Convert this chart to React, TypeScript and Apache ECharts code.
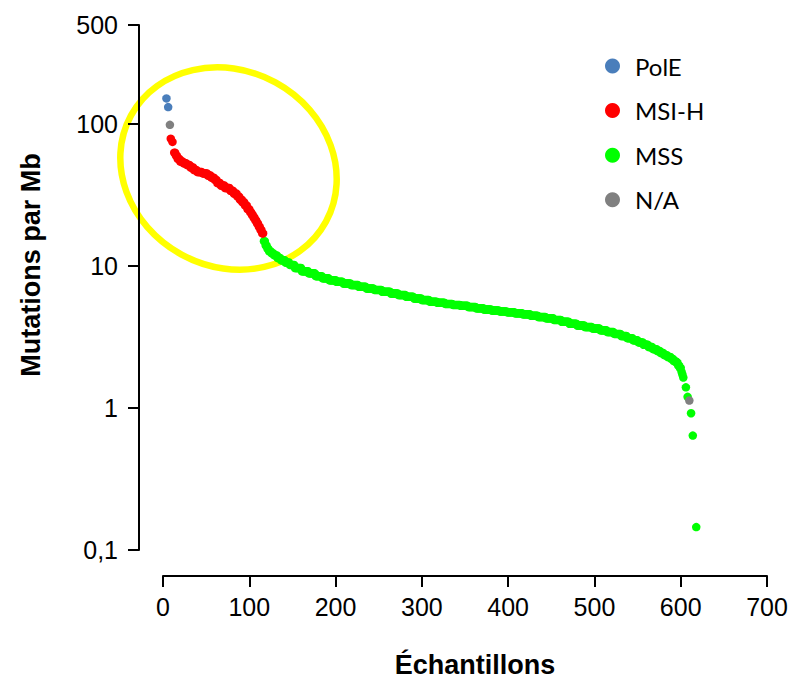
import React, { useEffect, useRef } from 'react';
import * as echarts from 'echarts';

// Legend / series names
const seriesNames = ['PolE', 'MSI-H', 'MSS', 'N/A'];
const seriesColors = ['#4a7ebb', '#ff0000', '#00ff00', '#808080'];

// X axis (sample rank) and Y axis (mutations per Mb, log) ranges
const xMin = 0;
const xMax = 700;
const xStep = 100;
const yMin = 0.1;
const yMax = 500;

// Isolated points: [sample rank, mutations per Mb]
const polePoints = [[4, 152], [6, 132]];
const naPoints = [[8, 99], [610, 1.13]];
const msiHeadPoints = [[9, 79], [11, 75]];
const mssTailPoints = [[606, 1.4], [608, 1.2], [612, 0.92], [614, 0.64], [618, 0.145]];

// Plateaus: [mutations per Mb, number of consecutive samples]
const msiStartRank = 13;
const msiRuns = [
  [63, 2], [60, 2], [57, 3], [54.5, 4], [53, 4], [51.5, 4], [49.5, 4], [47.5, 4],
  [46, 6], [45, 6], [43.5, 4], [42, 4], [40.5, 3], [38.5, 4], [37, 5], [35.5, 6],
  [34, 4], [32.5, 4], [31, 3], [29.5, 3], [28.2, 3], [26.8, 3], [25.2, 3], [24, 2],
  [23, 2], [22, 2], [21, 2], [20, 2], [19, 2], [18, 2], [17, 2],
];
const mssStartRank = 117;
const mssRuns = [
  [15.0, 2], [14.0, 2], [13.3, 2], [12.7, 3], [12.3, 3], [11.9, 4], [11.4, 4], [11.0, 5],
  [10.6, 5], [10.2, 6], [9.7, 8], [9.2, 8], [8.9, 8], [8.5, 8], [8.2, 8], [7.95, 8],
  [7.75, 8], [7.55, 9], [7.35, 9], [7.15, 9], [6.95, 9], [6.8, 9], [6.6, 10], [6.42, 9],
  [6.25, 9], [6.08, 9], [5.92, 9], [5.77, 9], [5.62, 9], [5.52, 9], [5.42, 9], [5.33, 9],
  [5.25, 9], [5.15, 9], [5.05, 9], [4.95, 9], [4.87, 9], [4.8, 9], [4.73, 9], [4.66, 9],
  [4.58, 9], [4.48, 9], [4.38, 9], [4.29, 9], [4.18, 9], [4.06, 9], [3.93, 9], [3.82, 9],
  [3.72, 9], [3.63, 9], [3.53, 8], [3.43, 8], [3.33, 8], [3.22, 7], [3.11, 7], [3.0, 6],
  [2.9, 6], [2.79, 6], [2.69, 5], [2.6, 5], [2.52, 4], [2.44, 4], [2.36, 4], [2.29, 4],
  [2.22, 3], [2.14, 3], [2.1, 2], [2.0, 2], [1.92, 2], [1.8, 1], [1.72, 1], [1.64, 1],
];

const expandRuns = (start: number, runs: number[][]) => {
  const out: number[][] = [];
  let rank = start;
  for (const [v, c] of runs) {
    for (let i = 0; i < c; i++) out.push([rank++, v]);
  }
  return out;
};

export default function App() {
  const ref = useRef<HTMLDivElement>(null);
  useEffect(() => {
    if (!ref.current) return;
    const chart = echarts.init(ref.current, undefined, { renderer: 'svg' });
    const msiData = msiHeadPoints.concat(expandRuns(msiStartRank, msiRuns));
    const mssData = expandRuns(mssStartRank, mssRuns).concat(mssTailPoints);
    const dataByName: Record<string, number[][]> = {
      'PolE': polePoints,
      'MSI-H': msiData,
      'MSS': mssData,
      'N/A': naPoints,
    };
    const drawOrder = ['MSS', 'MSI-H', 'PolE', 'N/A'];
    const axisFont = { color: '#000', fontSize: 25, fontFamily: '"Liberation Sans", Arial, sans-serif' };
    chart.setOption({
      animation: false,
      backgroundColor: '#fff',
      grid: { left: 163, right: 43, top: 25, bottom: 133 },
      xAxis: {
        type: 'value', min: xMin, max: xMax, interval: xStep, offset: 26,
        axisLine: { show: true, onZero: false, lineStyle: { color: '#000', width: 2 } },
        axisTick: { show: true, length: 11, lineStyle: { color: '#000', width: 2 } },
        axisLabel: { ...axisFont, margin: 18 },
        splitLine: { show: false },
      },
      yAxis: {
        type: 'log', logBase: 10, min: yMin, max: yMax, offset: 24,
        axisLine: { show: true, onZero: false, lineStyle: { color: '#000', width: 2 } },
        axisTick: { show: true, length: 11, lineStyle: { color: '#000', width: 2 } },
        axisLabel: {
          ...axisFont, margin: 21,
          formatter: (v: number) => (v < 1 ? String(Math.round(v * 10) / 10).replace('.', ',') : String(Math.round(v))),
        },
        splitLine: { show: false },
        minorTick: { show: false },
      },
      legend: {
        orient: 'vertical', left: 600, top: 49, itemWidth: 15, itemHeight: 15, itemGap: 20.6,
        icon: 'circle', data: seriesNames,
        textStyle: {
          color: '#000', fontSize: 24, fontFamily: 'Lato, "Open Sans", sans-serif',
          padding: [0, 0, 0, 10],
        },
      },
      graphic: [
        {
          type: 'ellipse', x: 228.5, y: 168.5, rotation: -0.5, z: 0,
          shape: { cx: 0, cy: 0, rx: 111, ry: 98 },
          style: { fill: 'none', stroke: '#ffff00', lineWidth: 6.5 },
        },
        {
          type: 'text', x: 31, y: 265, rotation: Math.PI / 2,
          style: {
            text: 'Mutations par Mb', fontSize: 27, fontWeight: 'bold',
            fontFamily: '"Liberation Sans", Arial, sans-serif', fill: '#000',
            textAlign: 'center', textVerticalAlign: 'middle',
          },
        },
        {
          type: 'text', x: 475, y: 665,
          style: {
            text: 'Échantillons', fontSize: 27, fontWeight: 'bold',
            fontFamily: '"Liberation Sans", Arial, sans-serif', fill: '#000',
            textAlign: 'center', textVerticalAlign: 'middle',
          },
        },
      ],
      series: drawOrder.map((name) => ({
        name, type: 'scatter', data: dataByName[name], symbolSize: 8.5, clip: false,
        itemStyle: { color: seriesColors[seriesNames.indexOf(name)], opacity: 1 },
        emphasis: { disabled: true },
      })),
    });
    return () => chart.dispose();
  }, []);
  return <div ref={ref} style={{ position: 'fixed', left: 0, top: 0, width: 810, height: 683 }} />;
}
